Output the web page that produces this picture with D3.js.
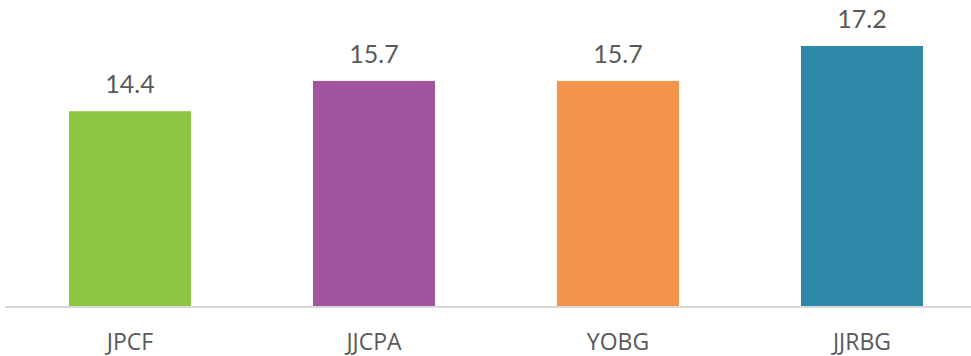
<!DOCTYPE html>
<html>
<head>
<meta charset="utf-8">
<script src="https://cdn.jsdelivr.net/npm/d3@7"></script>
<style>
  html, body { margin: 0; padding: 0; background: #ffffff; }
  svg { display: block; }
</style>
</head>
<body>
<svg id="chart" width="971" height="356"></svg>
<script>
const categories = ["JPCF", "JJCPA", "YOBG", "JJRBG"];
const values = [14.4, 15.7, 15.7, 17.2];
const barColors = ["#8dc641", "#a2559f", "#f4944c", "#2e88a8"];

const svg = d3.select("#chart");
const baseY = 307;

const x = d3.scaleBand()
  .domain(categories)
  .range([8, 984])
  .paddingInner(0.5)
  .paddingOuter(0.25);

const y = d3.scaleLinear()
  .domain([6, 19])
  .range([baseY, 4]);

const data = categories.map((c, i) => ({ cat: c, val: values[i], color: barColors[i] }));

// bars
svg.append("g")
  .selectAll("rect")
  .data(data)
  .join("rect")
  .attr("x", d => x(d.cat))
  .attr("y", d => y(d.val))
  .attr("width", x.bandwidth())
  .attr("height", d => baseY - y(d.val))
  .attr("fill", d => d.color);

// baseline
svg.append("line")
  .attr("x1", 5).attr("x2", 971)
  .attr("y1", baseY).attr("y2", baseY)
  .attr("stroke", "#d9d9d9")
  .attr("stroke-width", 2);

// value labels
svg.append("g")
  .selectAll("text")
  .data(data)
  .join("text")
  .attr("x", d => x(d.cat) + x.bandwidth() / 2)
  .attr("y", d => y(d.val) - 18)
  .attr("text-anchor", "middle")
  .attr("font-family", "Lato, 'Open Sans', sans-serif")
  .attr("font-size", 25)
  .attr("fill", "#595959")
  .text(d => d3.format(".1f")(d.val));

// category axis labels
const xAxis = d3.axisBottom(x).tickSize(0).tickPadding(0);
const gx = svg.append("g")
  .attr("transform", `translate(0, ${baseY})`)
  .call(xAxis);
gx.select(".domain").remove();
gx.selectAll("text")
  .attr("dy", null)
  .attr("y", 43)
  .attr("font-family", "'Open Sans', sans-serif")
  .attr("font-size", 23)
  .attr("fill", "#595959");
</script>
</body>
</html>
